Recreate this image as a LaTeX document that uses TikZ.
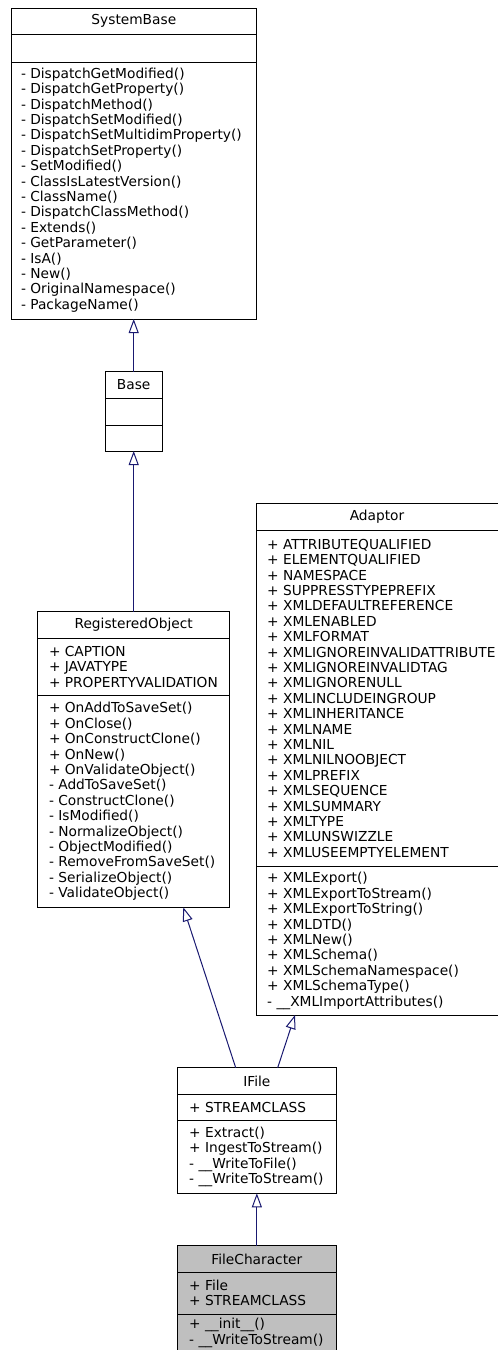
\documentclass[tikz,border=0pt]{standalone}
\usepackage{fontspec}
\setmainfont{DejaVu Sans}
\usetikzlibrary{arrows.meta}
\definecolor{edgeblue}{HTML}{191970}
\definecolor{fcgray}{HTML}{BFBFBF}
\newcommand\umlfont{\fontsize{13.75}{15.4}\selectfont}
\begin{document}
\begin{tikzpicture}[x=1pt,y=-1pt,
  cls/.style={draw=black, line width=1pt, fill=white, inner sep=0pt, outer sep=0pt},
  ttl/.style={inner sep=0pt, font=\umlfont},
  mem/.style={anchor=west, align=left, inner sep=0pt, font=\umlfont},
  inh/.style={draw=edgeblue, line width=1pt, -{Triangle[open, length=14pt, width=10pt]}},
  sepline/.style={draw=black, line width=1pt}]
\useasboundingbox (0,0) rectangle (498,1350);

% SystemBase
\node[cls, minimum width=244.3pt, minimum height=311pt] (sb) at (133.85,163.5) {};
\draw[sepline] (sb.west |- 0,34) -- (sb.east |- 0,34);
\draw[sepline] (sb.west |- 0,62) -- (sb.east |- 0,62);
\node[ttl] (sbt) at (133.85,21) {SystemBase};
\node[mem] (sbm) at (20.8,190) {- DispatchGetModified()\\- DispatchGetProperty()\\- DispatchMethod()\\- DispatchSetModified()\\- DispatchSetMultidimProperty()\\- DispatchSetProperty()\\- SetModified()\\- ClassIsLatestVersion()\\- ClassName()\\- DispatchClassMethod()\\- Extends()\\- GetParameter()\\- IsA()\\- New()\\- OriginalNamespace()\\- PackageName()};

% Base
\node[cls, minimum width=57.3pt, minimum height=79.3pt] (base) at (133.7,411.35) {};
\draw[sepline] (base.west |- 0,398) -- (base.east |- 0,398);
\draw[sepline] (base.west |- 0,425) -- (base.east |- 0,425);
\node[ttl] (baset) at (133.7,384.8) {Base};

% RegisteredObject
\node[cls, minimum width=192pt, minimum height=295.6pt] (ro) at (133.7,759.5) {};
\draw[sepline] (ro.west |- 0,638) -- (ro.east |- 0,638);
\draw[sepline] (ro.west |- 0,695.7) -- (ro.east |- 0,695.7);
\node[ttl] (rot) at (133.7,624.8) {RegisteredObject};
\node[mem] (roa) at (48.8,666.8) {+ CAPTION\\+ JAVATYPE\\+ PROPERTYVALIDATION};
\node[mem] (rom) at (48.8,801.5) {+ OnAddToSaveSet()\\+ OnClose()\\+ OnConstructClone()\\+ OnNew()\\+ OnValidateObject()\\- AddToSaveSet()\\- ConstructClone()\\- IsModified()\\- NormalizeObject()\\- ObjectModified()\\- RemoveFromSaveSet()\\- SerializeObject()\\- ValidateObject()};

% Adaptor
\node[cls, minimum width=243pt, minimum height=512pt] (ad) at (377.5,759) {};
\draw[sepline] (ad.west |- 0,530) -- (ad.east |- 0,530);
\draw[sepline] (ad.west |- 0,866.7) -- (ad.east |- 0,866.7);
\node[ttl] (adt) at (377,516.5) {Adaptor};
\node[mem] (ada) at (267,698.3) {+ ATTRIBUTEQUALIFIED\\+ ELEMENTQUALIFIED\\+ NAMESPACE\\+ SUPPRESSTYPEPREFIX\\+ XMLDEFAULTREFERENCE\\+ XMLENABLED\\+ XMLFORMAT\\+ XMLIGNOREINVALIDATTRIBUTE\\+ XMLIGNOREINVALIDTAG\\+ XMLIGNORENULL\\+ XMLINCLUDEINGROUP\\+ XMLINHERITANCE\\+ XMLNAME\\+ XMLNIL\\+ XMLNILNOOBJECT\\+ XMLPREFIX\\+ XMLSEQUENCE\\+ XMLSUMMARY\\+ XMLTYPE\\+ XMLUNSWIZZLE\\+ XMLUSEEMPTYELEMENT};
\node[mem] (adm) at (267,940.8) {+ XMLExport()\\+ XMLExportToStream()\\+ XMLExportToString()\\+ XMLDTD()\\+ XMLNew()\\+ XMLSchema()\\+ XMLSchemaNamespace()\\+ XMLSchemaType()\\- \_\_XMLImportAttributes()};

% IFile
\node[cls, minimum width=158.3pt, minimum height=125.6pt] (ifile) at (256.85,1130.5) {};
\draw[sepline] (ifile.west |- 0,1094.3) -- (ifile.east |- 0,1094.3);
\draw[sepline] (ifile.west |- 0,1120.7) -- (ifile.east |- 0,1120.7);
\node[ttl] (ifilet) at (256.85,1081) {IFile};
\node[mem] (ifilea) at (189,1107.5) {+ STREAMCLASS};
\node[mem] (ifilem) at (189,1157) {+ Extract()\\+ IngestToStream()\\- \_\_WriteToFile()\\- \_\_WriteToStream()};

% FileCharacter
\node[cls, fill=fcgray, minimum width=158.3pt, minimum height=110.3pt] (fc) at (256.85,1300.85) {};
\draw[sepline] (fc.west |- 0,1272.3) -- (fc.east |- 0,1272.3);
\draw[sepline] (fc.west |- 0,1314) -- (fc.east |- 0,1314);
\node[ttl] (fct) at (256.85,1259) {FileCharacter};
\node[mem] (fca) at (189,1293.1) {+ File\\+ STREAMCLASS};
\node[mem] (fcm) at (189,1333) {+ \_\_init\_\_()\\- \_\_WriteToStream()};

% inheritance connectors
\draw[inh] (base.north) -- (base.north |- sb.south);
\draw[inh] (ro.north) -- (base.south);
\draw[inh] ([xshift=-21.15pt]ifile.north) -- ([xshift=49.6pt]ro.south);
\draw[inh] ([xshift=20.85pt]ifile.north) -- ([xshift=-82.5pt]ad.south);
\draw[inh] (fc.north) -- (ifile.south);
\end{tikzpicture}
\end{document}
